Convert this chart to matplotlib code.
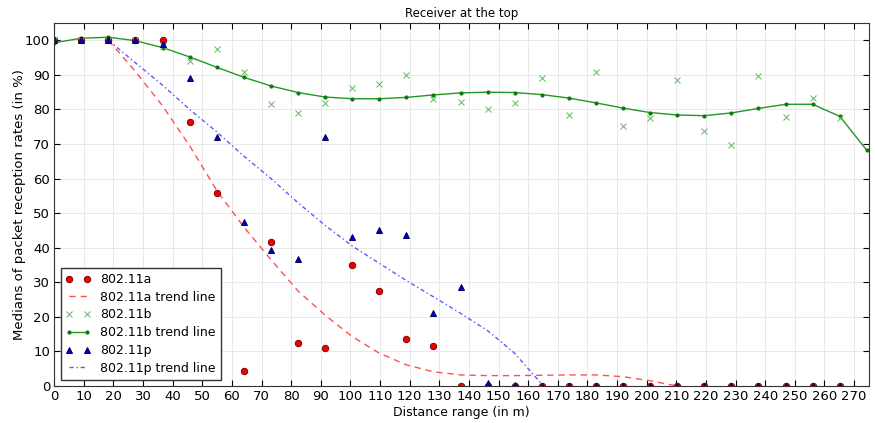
import numpy as np
import matplotlib
matplotlib.use("Agg")
import matplotlib.pyplot as plt

# distances: measurement points every 30 ft (9.144 m)
dist = [0.0, 9.1, 18.3, 27.4, 36.6, 45.7, 54.9, 64.0, 73.2, 82.3,
        91.4, 100.6, 109.7, 118.9, 128.0, 137.2, 146.3, 155.4, 164.6, 173.7,
        182.9, 192.0, 201.2, 210.3, 219.5, 228.6, 237.7, 246.9, 256.0, 265.2]

a_vals = [100, 100, 100, 100, 100, 76.5, 55.7, 4.2, 41.8, 12.5,
          10.9, 35.1, 27.6, 13.5, 11.6, 0, 0, 0, 0, 0,
          0, 0, 0, 0, 0, 0, 0, 0, 0, 0]

b_vals = [100, 100, 100, 100, 98.5, 94.1, 97.4, 90.8, 81.7, 78.9,
          81.9, 86.2, 87.5, 90.0, 83.1, 82.3, 80.1, 81.9, 89.2, 78.3,
          90.7, 75.2, 77.4, 88.4, 73.8, 69.7, 89.6, 77.7, 83.4, 77.5]

p_vals = [100, 100, 100, 100, 98.9, 89.0, 72.0, 47.5, 39.2, 36.6,
          71.9, 43.0, 45.0, 43.6, 21.0, 28.7, 1.0, 0.3, 0, 0,
          0, 0, 0, 0, 0, 0, 0, 0, 0, 0]

# trend lines
a_trend_x = [18.3, 27.4, 36.6, 45.7, 54.9, 64.0, 73.2, 82.3, 91.4, 100.6,
             109.7, 118.9, 128.0, 137.2, 146.3, 155.4, 164.6, 173.7, 182.9,
             192.0, 201.2, 210.3, 213.0]
a_trend_y = [100, 91, 81, 69.5, 56.5, 46, 36.5, 27.5, 20.5, 14.3,
             9.5, 6.1, 4.1, 3.2, 3.0, 3.0, 3.1, 3.2, 3.2,
             2.7, 1.5, 0.0, -0.8]

b_trend_x = [0.0, 9.1, 18.3, 27.4, 36.6, 45.7, 54.9, 64.0, 73.2, 82.3,
             91.4, 100.6, 109.7, 118.9, 128.0, 137.2, 146.3, 155.4, 164.6, 173.7,
             182.9, 192.0, 201.2, 210.3, 219.5, 228.6, 237.7, 246.9, 256.0, 265.2,
             274.3]
b_trend_y = [99.3, 100.6, 100.9, 99.9, 97.9, 95.2, 92.2, 89.3, 86.8, 84.9,
             83.6, 83.1, 83.1, 83.5, 84.2, 84.8, 85.0, 84.9, 84.3, 83.3,
             81.9, 80.4, 79.1, 78.4, 78.2, 79.0, 80.3, 81.5, 81.5, 78.0,
             68.2]

p_trend_x = [18.3, 27.4, 36.6, 45.7, 54.9, 64.0, 73.2, 82.3, 91.4, 100.6,
             109.7, 118.9, 128.0, 137.2, 146.3, 155.4, 164.6]
p_trend_y = [100, 93.5, 87, 80, 73.5, 66.5, 60, 53, 46.5, 40.5,
             35.5, 30.5, 25.8, 21.0, 16.0, 9.5, 0.5]

plt.rcParams['font.family'] = 'DejaVu Sans'

fig = plt.figure(figsize=(8.75, 4.23), dpi=100)
ax = fig.add_axes([0.062, 0.0875, 0.931, 0.858])

ax.plot(dist, a_vals, 'o', color='#ee0000', markeredgecolor='#880000', markersize=4.6,
        mew=0.7, label='802.11a', zorder=3)
ax.plot(a_trend_x, a_trend_y, color='#ff5050', lw=1.0, dashes=(4.5, 3.5),
        label='802.11a trend line', zorder=2)
ax.plot(dist, b_vals, 'x', color='#5cb85c', markersize=4.5, mew=0.7,
        label='802.11b', zorder=3)
ax.plot(b_trend_x, b_trend_y, '-', color='#229922', lw=1.0, marker='o', markersize=2.0,
        markerfacecolor='#117711', markeredgecolor='#117711',
        label='802.11b trend line', zorder=2)
ax.plot(dist, p_vals, '^', color='#0000cc', markeredgecolor='#000066', markersize=4.6,
        mew=0.7, label='802.11p', zorder=4)
ax.plot(p_trend_x, p_trend_y, color='#5a5aff', lw=1.0, dashes=(3, 2, 1, 2),
        label='802.11p trend line', zorder=2)

ax.set_xlim(0, 275)
ax.set_ylim(0, 105)
ax.set_xticks(np.arange(0, 271, 10))
ax.set_yticks(np.arange(0, 101, 10))
ax.tick_params(direction='in', top=True, right=True, labelsize=9.5, length=4, pad=3)
ax.grid(True, color='#e8e8e8', lw=0.7)
ax.set_axisbelow(True)
for s in ax.spines.values():
    s.set_color('#333333')
    s.set_zorder(5)

ax.set_title('Receiver at the top', fontsize=8.5, pad=4)
ax.set_xlabel('Distance range (in m)', fontsize=9, labelpad=2)
ax.set_ylabel('Medians of packet reception rates (in %)', fontsize=9.5, labelpad=-1)

leg = ax.legend(loc='lower left', numpoints=2, fontsize=9, fancybox=False,
                frameon=True, borderaxespad=0.5, borderpad=0.4, handlelength=2.0,
                handletextpad=0.8, labelspacing=0.38, framealpha=1.0)
leg.get_frame().set_edgecolor('#333333')
leg.get_frame().set_linewidth(1.0)
leg.set_zorder(6)

fig.savefig('out.png', dpi=100, facecolor='white')
